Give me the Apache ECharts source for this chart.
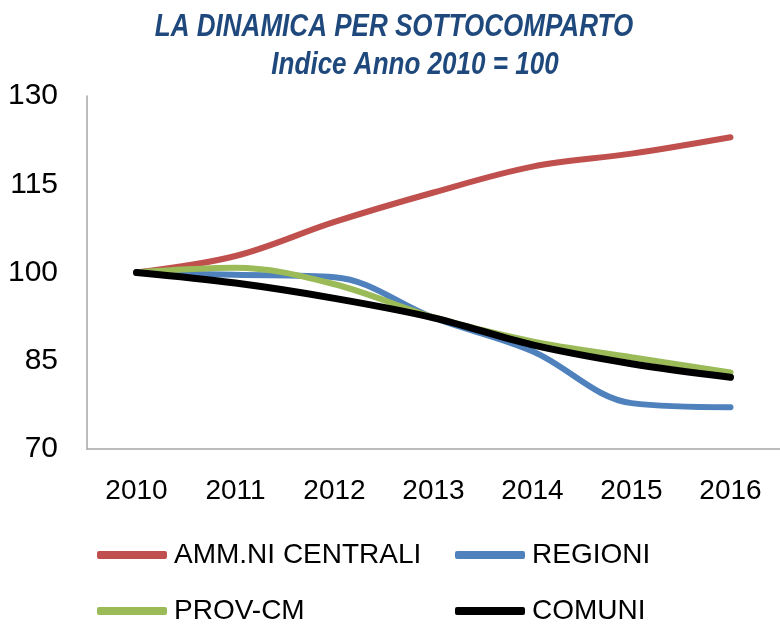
<!DOCTYPE html>
<html>
<head>
<meta charset="utf-8">
<script src="https://cdn.jsdelivr.net/npm/echarts@6/dist/echarts.min.js"></script>
<style>
  body { margin: 0; padding: 0; background: #fff; }
  #chart { width: 780px; height: 625px; }
</style>
</head>
<body>
<div id="chart"></div>
<script>
  // dati
  const anni = ["2010", "2011", "2012", "2013", "2014", "2015", "2016"];
  const ammCentrali = [100, 102.8, 108.6, 113.6, 118.0, 120.2, 123.0];
  const regioni = [100, 99.6, 99.2, 92.3, 86.6, 77.8, 77.1];
  const provCm = [100, 100.8, 98.0, 92.4, 88.3, 85.6, 83.0];
  const comuni = [100, 98.2, 95.6, 92.3, 87.7, 84.5, 82.2];
  const yTicks = [70, 85, 100, 115, 130];

  const font = "'Liberation Sans', Arial, sans-serif";

  function serie(name, data, color, width) {
    return {
      name: name,
      type: "line",
      data: data,
      smooth: 0.35,
      symbol: "none",
      lineStyle: { color: color, width: width, cap: "round" },
      itemStyle: { color: color },
    };
  }

  function voce(name, left, top) {
    return {
      data: [name],
      left: left,
      top: top,
      icon: "roundRect",
      itemWidth: 70,
      itemHeight: 8,
      itemGap: 0,
      textStyle: { fontFamily: font, fontSize: 28, color: "#000", padding: [0, 0, 0, 2] },
    };
  }

  // titolo: testo un po' stretto come l'originale
  function titolo(testo, x, y) {
    return {
      type: "text",
      x: x,
      y: y,
      scaleX: 0.84,
      style: {
        text: testo,
        font: "italic bold 31px " + font,
        fill: "#1F497D",
        align: "center",
        verticalAlign: "top",
      },
    };
  }

  const option = {
    animation: false,
    graphic: [
      titolo("LA DINAMICA PER SOTTOCOMPARTO", 394, 12),
      titolo("Indice Anno 2010 = 100", 415, 50),
    ],
    legend: [
      voce("AMM.NI CENTRALI", 92, 536),
      voce("REGIONI", 450, 536),
      voce("PROV-CM", 92, 592),
      voce("COMUNI", 450, 592),
    ],
    grid: { left: 87, right: -10, top: 96, bottom: 176 },
    xAxis: {
      type: "category",
      data: anni,
      boundaryGap: true,
      axisLine: { show: true, lineStyle: { color: "#a6a6a6", width: 1.5 } },
      axisTick: { show: false },
      axisLabel: { fontFamily: font, fontSize: 28, color: "#000", margin: 28 },
    },
    yAxis: {
      type: "value",
      min: yTicks[0],
      max: yTicks[yTicks.length - 1],
      interval: 15,
      axisLine: { show: true, lineStyle: { color: "#a6a6a6", width: 1.5 } },
      axisTick: { show: false },
      splitLine: { show: false },
      axisLabel: { fontFamily: font, fontSize: 30, color: "#000", margin: 29 },
    },
    series: [
      serie("AMM.NI CENTRALI", ammCentrali, "#C0504D", 6),
      serie("REGIONI", regioni, "#4F81BD", 6),
      serie("PROV-CM", provCm, "#9BBB59", 6),
      serie("COMUNI", comuni, "#000000", 7),
    ],
  };

  const chart = echarts.init(document.getElementById("chart"));
  chart.setOption(option);
</script>
</body>
</html>
